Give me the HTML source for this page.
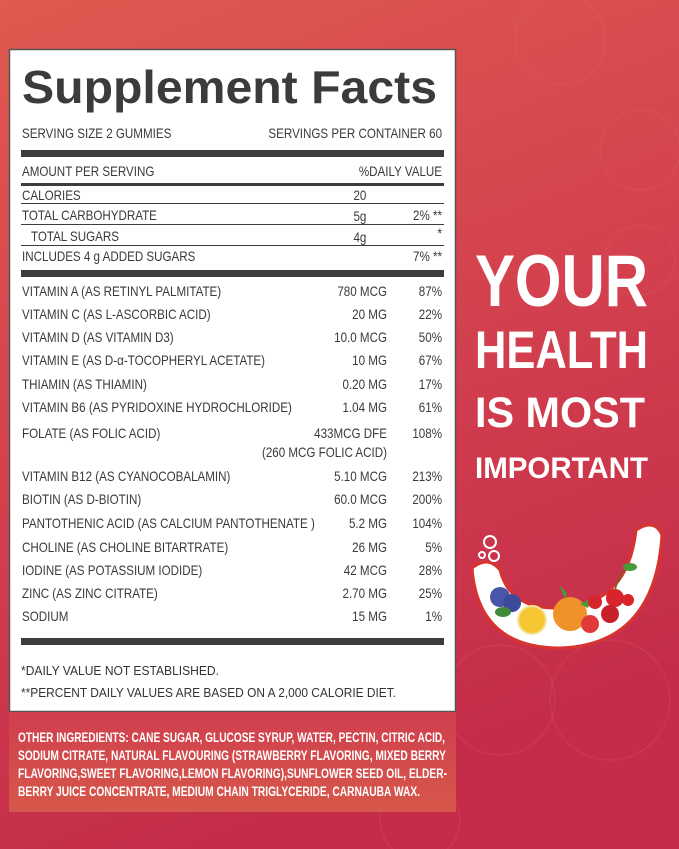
<!DOCTYPE html>
<html><head><meta charset="utf-8"><style>
html,body{margin:0;padding:0;width:679px;height:849px;overflow:hidden}
svg{display:block}
</style></head><body>
<svg width="679" height="849" viewBox="0 0 679 849" xmlns="http://www.w3.org/2000/svg">
<defs>
<linearGradient id="bg" x1="0" y1="0" x2="0.3" y2="1">
<stop offset="0" stop-color="#e05a50"/><stop offset="0.5" stop-color="#d4424e"/><stop offset="1" stop-color="#c42c4a"/>
</linearGradient>
<linearGradient id="ing" x1="0" y1="0" x2="0" y2="1">
<stop offset="0" stop-color="#d03e4e"/><stop offset="1" stop-color="#d6584a"/>
</linearGradient>
</defs>
<rect width="679" height="849" fill="url(#bg)"/>
<g fill="none" stroke="#e87a7a" stroke-opacity="0.18" stroke-width="1.2">
<circle cx="560" cy="40" r="45"/><circle cx="640" cy="150" r="40"/><circle cx="610" cy="700" r="60"/>
<circle cx="500" cy="700" r="55"/><circle cx="420" cy="820" r="40"/><circle cx="640" cy="260" r="35"/>
</g>
<!-- panel -->
<rect x="9.5" y="49.5" width="446" height="662" fill="#fff" stroke="#555" stroke-width="1.5"/>
<text x="22" y="103" font-family="Liberation Sans" font-weight="bold" font-size="46" fill="#3b3b3b" textLength="415" lengthAdjust="spacingAndGlyphs">Supplement Facts</text>
<g fill="#3d3d3d">
<rect x="21" y="150" width="423" height="7"/>
<rect x="21" y="183" width="423" height="3"/>
<rect x="21" y="203" width="423" height="1"/>
<rect x="21" y="224" width="423" height="1"/>
<rect x="21" y="245" width="423" height="1"/>
<rect x="21" y="270" width="423" height="7"/>
<rect x="21" y="638" width="423" height="7"/>
</g>
<g font-family="Liberation Sans" font-size="13.5" fill="#3a3a3a" transform="scale(0.86,1)">
<text x="25.6" y="138">SERVING SIZE 2 GUMMIES</text>
<text x="514" y="138" text-anchor="end">SERVINGS PER CONTAINER 60</text>
<text x="25.6" y="176">AMOUNT PER SERVING</text>
<text x="514" y="176" text-anchor="end">%DAILY  VALUE</text>
<text x="25.6" y="200">CALORIES</text><text x="426" y="200" text-anchor="end">20</text>
<text x="25.6" y="220">TOTAL CARBOHYDRATE</text><text x="426" y="221" text-anchor="end">5g</text><text x="514" y="220" text-anchor="end">2% **</text>
<text x="36" y="241">TOTAL SUGARS</text><text x="426" y="242" text-anchor="end">4g</text><text x="514" y="238" text-anchor="end">*</text>
<text x="25.6" y="261">INCLUDES 4 g ADDED SUGARS</text><text x="514" y="261" text-anchor="end">7% **</text>
</g>
<g font-family="Liberation Sans" font-size="13.5" fill="#3a3a3a" transform="scale(0.86,1)">
<text x="25.6" y="296">VITAMIN A (AS RETINYL PALMITATE)</text><text x="450" y="296" text-anchor="end">780 MCG</text><text x="514" y="296" text-anchor="end">87%</text>
<text x="25.6" y="319">VITAMIN C (AS L-ASCORBIC ACID)</text><text x="450" y="319" text-anchor="end">20 MG</text><text x="514" y="319" text-anchor="end">22%</text>
<text x="25.6" y="342">VITAMIN D (AS VITAMIN D3)</text><text x="450" y="342" text-anchor="end">10.0 MCG</text><text x="514" y="342" text-anchor="end">50%</text>
<text x="25.6" y="365">VITAMIN E (AS D-α-TOCOPHERYL ACETATE)</text><text x="450" y="365" text-anchor="end">10 MG</text><text x="514" y="365" text-anchor="end">67%</text>
<text x="25.6" y="389">THIAMIN (AS THIAMIN)</text><text x="450" y="389" text-anchor="end">0.20 MG</text><text x="514" y="389" text-anchor="end">17%</text>
<text x="25.6" y="412">VITAMIN B6 (AS PYRIDOXINE HYDROCHLORIDE)</text><text x="450" y="412" text-anchor="end">1.04 MG</text><text x="514" y="412" text-anchor="end">61%</text>
<text x="25.6" y="438">FOLATE (AS FOLIC ACID)</text><text x="450" y="438" text-anchor="end">433MCG DFE</text><text x="514" y="438" text-anchor="end">108%</text>
<text x="450" y="457" text-anchor="end">(260 MCG FOLIC ACID)</text>
<text x="25.6" y="481">VITAMIN B12 (AS CYANOCOBALAMIN)</text><text x="450" y="481" text-anchor="end">5.10 MCG</text><text x="514" y="481" text-anchor="end">213%</text>
<text x="25.6" y="504">BIOTIN (AS D-BIOTIN)</text><text x="450" y="504" text-anchor="end">60.0 MCG</text><text x="514" y="504" text-anchor="end">200%</text>
<text x="25.6" y="528">PANTOTHENIC ACID (AS CALCIUM PANTOTHENATE )</text><text x="450" y="528" text-anchor="end">5.2 MG</text><text x="514" y="528" text-anchor="end">104%</text>
<text x="25.6" y="552">CHOLINE (AS CHOLINE BITARTRATE)</text><text x="450" y="552" text-anchor="end">26 MG</text><text x="514" y="552" text-anchor="end">5%</text>
<text x="25.6" y="575">IODINE (AS POTASSIUM IODIDE)</text><text x="450" y="575" text-anchor="end">42 MCG</text><text x="514" y="575" text-anchor="end">28%</text>
<text x="25.6" y="598">ZINC (AS ZINC CITRATE)</text><text x="450" y="598" text-anchor="end">2.70 MG</text><text x="514" y="598" text-anchor="end">25%</text>
<text x="25.6" y="621">SODIUM</text><text x="450" y="621" text-anchor="end">15 MG</text><text x="514" y="621" text-anchor="end">1%</text>
</g>
<g font-family="Liberation Sans" font-size="13" fill="#333">
<text x="21" y="675" textLength="198" lengthAdjust="spacingAndGlyphs">*DAILY VALUE NOT ESTABLISHED.</text>
<text x="21" y="697" textLength="375" lengthAdjust="spacingAndGlyphs">**PERCENT DAILY VALUES ARE BASED ON A 2,000 CALORIE DIET.</text>
</g>
<!-- ingredients -->
<rect x="9" y="712" width="447" height="100" fill="url(#ing)"/>
<g font-family="Liberation Sans" font-weight="bold" font-size="13.5" fill="#fff">
<text x="18" y="742" textLength="427" lengthAdjust="spacingAndGlyphs">OTHER INGREDIENTS: CANE SUGAR, GLUCOSE SYRUP, WATER, PECTIN, CITRIC ACID,</text>
<text x="18" y="760" textLength="428" lengthAdjust="spacingAndGlyphs">SODIUM CITRATE, NATURAL FLAVOURING (STRAWBERRY FLAVORING, MIXED BERRY</text>
<text x="18" y="778" textLength="429" lengthAdjust="spacingAndGlyphs">FLAVORING,SWEET FLAVORING,LEMON FLAVORING),SUNFLOWER SEED OIL, ELDER-</text>
<text x="18" y="796" textLength="402" lengthAdjust="spacingAndGlyphs">BERRY JUICE CONCENTRATE, MEDIUM CHAIN TRIGLYCERIDE, CARNAUBA WAX.</text>
</g>
<!-- slogan -->
<g font-family="Liberation Sans" font-weight="bold" fill="#fff">
<text x="475" y="306" font-size="73" textLength="173" lengthAdjust="spacingAndGlyphs">YOUR</text>
<text x="475" y="368" font-size="53" textLength="173" lengthAdjust="spacingAndGlyphs">HEALTH</text>
<text x="475" y="427" font-size="43" textLength="170" lengthAdjust="spacingAndGlyphs">IS MOST</text>
<text x="475" y="478" font-size="30" textLength="173" lengthAdjust="spacingAndGlyphs">IMPORTANT</text>
</g>
<!-- fruit bowl -->
<path d="M472 568 Q478 648 560 648 Q655 645 662 535 Q655 518 636 530 Q628 605 560 608 Q510 610 500 570 Q488 555 472 568 Z" fill="#fff" stroke="#d8342f" stroke-width="3"/>
<circle cx="490" cy="542" r="6" fill="none" stroke="#fff" stroke-width="2"/>
<circle cx="482" cy="555" r="3" fill="none" stroke="#fff" stroke-width="2"/>
<circle cx="494" cy="556" r="5" fill="none" stroke="#fff" stroke-width="2"/>
<circle cx="500" cy="597" r="10" fill="#4a57a8"/><circle cx="512" cy="603" r="9" fill="#3b4a9a"/>
<ellipse cx="503" cy="612" rx="8" ry="5" fill="#3e8a3a"/>
<circle cx="532" cy="620" r="14" fill="#f6c632" stroke="#f2e6a0" stroke-width="2"/>
<circle cx="570" cy="614" r="17" fill="#f0912a"/>
<path d="M565 599 l-6 -14 l8 8 z" fill="#4a9a3a"/>
<path d="M580 604 l12 -6 l-4 10 z" fill="#4a9a3a"/>
<circle cx="590" cy="624" r="9" fill="#e23a3a"/>
<circle cx="595" cy="602" r="7" fill="#d8242a"/>
<circle cx="615" cy="598" r="9" fill="#d8242a"/>
<circle cx="610" cy="614" r="9" fill="#c8202a"/>
<circle cx="628" cy="600" r="6" fill="#d8242a"/>
<path d="M615 590 Q620 572 628 567" stroke="#7a5a2a" stroke-width="1.5" fill="none"/>
<ellipse cx="630" cy="567" rx="7" ry="4" fill="#4a9a3a"/>
</svg>
</body></html>
